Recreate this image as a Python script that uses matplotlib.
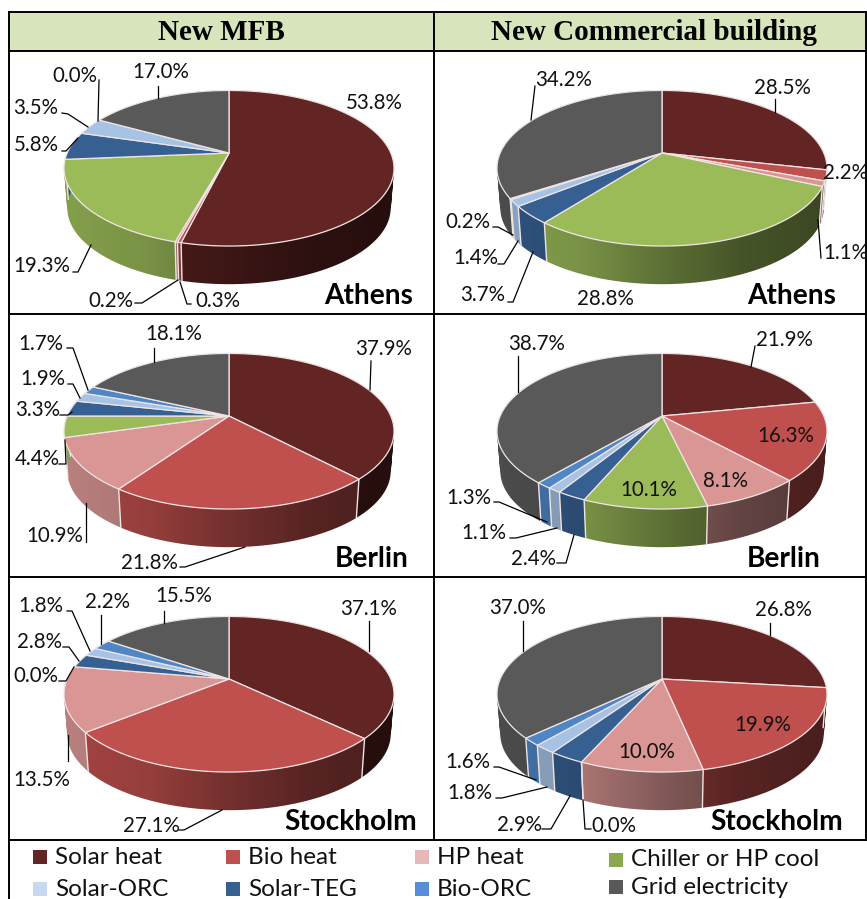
"""Six 3D-look pie charts in a table: energy shares for new MFB / commercial buildings."""
import numpy as np
import matplotlib
matplotlib.use("Agg")
import matplotlib.pyplot as plt
from matplotlib.colors import to_rgb
from matplotlib.patches import PathPatch, Polygon, Rectangle
from matplotlib.path import Path

plt.rcParams["font.family"] = ["Lato", "DejaVu Sans"]

# slice order runs clockwise from 12 o'clock
slice_names = ["Solar heat", "Bio heat", "HP heat", "Chiller or HP cool",
               "Solar-TEG", "Solar-ORC", "Bio-ORC", "Grid electricity"]
slice_colors = ["#632523", "#c0504d", "#d99694", "#9bbb59",
                "#376092", "#a6c2e4", "#4f86c6", "#595959"]

athens_mfb = [53.8, 0.3, 0.2, 19.3, 5.8, 3.5, 0.0, 17.0]
athens_com = [28.5, 2.2, 1.1, 28.8, 3.7, 1.4, 0.2, 34.2]
berlin_mfb = [37.9, 21.8, 10.9, 4.4, 3.3, 1.9, 1.7, 18.1]
berlin_com = [21.9, 16.3, 8.1, 10.1, 2.4, 1.1, 1.3, 38.7]
stockholm_mfb = [37.1, 27.1, 13.5, 0.0, 2.8, 1.8, 2.2, 15.5]
stockholm_com = [26.8, 19.9, 10.0, 0.0, 2.9, 1.8, 1.6, 37.0]

headers = ["New MFB", "New Commercial building"]

# legend rows as they appear under the table
legend_names = ["Solar heat", "Bio heat", "HP heat", "Chiller or HP cool",
                "Solar-ORC", "Solar-TEG", "Bio-ORC", "Grid electricity"]
legend_colors = ["#632523", "#c0504d", "#e6b9b8", "#8aa84f",
                 "#c6d9f1", "#376092", "#558ed5", "#595959"]
legend_x = [33, 226, 415, 609, 33, 226, 415, 609]
legend_y = [857, 857, 857, 860, 889, 889, 889, 887]

# perspective of the pie, in pixels
RX, RY, K = 161.8, 74.8, 0.196
DEPTH, BOTTOM_SCALE = 40, 0.98

# panel: values, apex position, city label position,
# labels as slice index -> (text x, text y, leader points)
panels = [
    (athens_mfb, (229, 153), "Athens", (369, 295), {
        0: (374, 102, []),
        1: (218, 300, [(191, 304), (187, 304), (180, 282)]),
        2: (111, 300, [(135, 303), (142, 303), (178, 280)]),
        3: (42, 265, [(73, 272), (78, 272), (91, 245)]),
        4: (36, 144, [(62, 151), (66, 151), (78, 138)]),
        5: (36, 107, [(62, 113), (68, 114), (88, 127)]),
        6: (75, 75, [(99, 80), (98, 121)]),
        7: (161, 71, [(158, 86), (158, 98)]),
    }),
    (athens_com, (662, 153), "Athens", (792, 295), {
        0: (782, 87, [(775, 99), (775, 112)]),
        1: (846, 172, []),
        2: (846, 252, [(821, 258), (818, 220)]),
        3: (605, 298, []),
        4: (483, 294, [(508, 302), (513, 302), (533, 252)]),
        5: (476, 257, [(498, 264), (504, 264), (518, 241)]),
        6: (468, 221, [(493, 227), (498, 227), (513, 235)]),
        7: (564, 79, [(535, 86), (531, 120)]),
    }),
    (berlin_mfb, (229, 416), "Berlin", (372, 558), {
        0: (384, 348, [(371, 361), (370, 390)]),
        1: (149, 562, [(180, 567), (185, 567), (245, 547)]),
        2: (55, 535, [(86, 542), (86, 503)]),
        3: (37, 458, [(59, 464), (66, 464), (65, 440)]),
        4: (38, 409, [(60, 415), (68, 415), (72, 412)]),
        5: (43, 378, [(68, 384), (73, 384), (80, 398)]),
        6: (41, 343, [(67, 348), (73, 348), (88, 390)]),
        7: (174, 333, [(154, 348), (154, 362)]),
    }),
    (berlin_com, (662, 416), "Berlin", (784, 558), {
        0: (784, 339, [(755, 346), (751, 367)]),
        1: (786, 435, []),
        2: (726, 480, []),
        3: (649, 489, []),
        4: (534, 558, [(557, 563), (566, 563), (574, 535)]),
        5: (484, 532, [(510, 538), (516, 538), (557, 528)]),
        6: (469, 497, [(494, 502), (499, 502), (547, 522)]),
        7: (537, 343, [(518, 356), (518, 392)]),
    }),
    (stockholm_mfb, (229, 679), "Stockholm", (351, 821), {
        0: (369, 608, [(369, 621), (369, 651)]),
        1: (151, 825, [(179, 830), (184, 830), (222, 810)]),
        2: (42, 779, [(68, 761), (68, 735)]),
        3: (36, 675, [(59, 681), (66, 681), (74, 667)]),
        4: (39, 641, [(63, 647), (69, 647), (79, 661)]),
        5: (41, 605, [(67, 611), (72, 611), (90, 651)]),
        6: (107, 601, [(101, 615), (101, 644)]),
        7: (184, 595, [(164, 611), (164, 623)]),
    }),
    (stockholm_com, (662, 679), "Stockholm", (777, 821), {
        0: (783, 609, [(770, 623), (770, 635)]),
        1: (763, 724, []),
        2: (647, 751, []),
        3: (614, 825, [(591, 829), (585, 829), (583, 800)]),
        4: (519, 824, [(542, 829), (551, 829), (570, 796)]),
        5: (470, 792, [(496, 798), (502, 798), (547, 787)]),
        6: (468, 761, [(494, 767), (499, 767), (536, 780)]),
        7: (518, 607, [(523, 621), (523, 651)]),
    }),
]


def project(theta, apex, bottom=False):
    """Map a clockwise angle on the disc to picture pixels."""
    x, y = np.sin(theta), np.cos(theta)
    w = 1 + K * y
    px, py = RX * x / w, -RY * y / w
    if bottom:
        return apex[0] + px * BOTTOM_SCALE, apex[1] + py * BOTTOM_SCALE + DEPTH
    return apex[0] + px, apex[1] + py


def wall_shade(rel_x):
    # lit from the left, dark on the right
    return np.interp(rel_x, [-1, -0.5, 0, 0.5, 1], [0.85, 0.78, 0.6, 0.45, 0.38])


def wall_path(tx, ty, bx, by):
    # one quad per arc step, all wound the same way so overlaps stay filled
    verts, codes = [], []
    for j in range(len(tx) - 1):
        quad = [(tx[j], ty[j]), (tx[j + 1], ty[j + 1]), (bx[j + 1], by[j + 1]), (bx[j], by[j])]
        xs, ys = zip(*quad)
        area = np.dot(xs, np.roll(ys, -1)) - np.dot(ys, np.roll(xs, -1))
        if area < 0:
            quad = quad[::-1]
        verts += quad + [quad[0]]
        codes += [Path.MOVETO, Path.LINETO, Path.LINETO, Path.LINETO, Path.CLOSEPOLY]
    return Path(verts, codes)


def draw_pie(ax, values, apex):
    edges = 2 * np.pi * np.cumsum([0] + list(values)) / sum(values)
    line = "#efe4e4"
    rel = np.linspace(-1.05, 1.05, 256)
    extent = [apex[0] + rel[0] * RX, apex[0] + rel[-1] * RX, apex[1] + 150, apex[1] - 80]
    for i, val in enumerate(values):
        if val == 0:
            continue
        t = np.linspace(edges[i], edges[i + 1], max(3, int(val * 6)))
        tx, ty = project(t, apex)
        bx, by = project(t, apex, bottom=True)
        clip = PathPatch(wall_path(tx, ty, bx, by), transform=ax.transData,
                         facecolor="none", edgecolor="none")
        ax.add_patch(clip)
        base = np.array(to_rgb(slice_colors[i]))
        grad = base[None, None, :] * wall_shade(rel)[None, :, None]
        im = ax.imshow(grad, extent=extent, aspect="auto", zorder=2, interpolation="bilinear")
        im.set_clip_path(clip)
    for th in edges[:-1]:
        tx, ty = project(th, apex)
        bx, by = project(th, apex, bottom=True)
        ax.plot([tx, bx], [ty, by], color=line, lw=1.0, zorder=3)
    for i, val in enumerate(values):
        if val == 0:
            continue
        t = np.linspace(edges[i], edges[i + 1], max(3, int(val * 6)))
        tx, ty = project(t, apex)
        pts = [apex] + list(zip(tx, ty))
        ax.add_patch(Polygon(pts, closed=True, facecolor=slice_colors[i], edgecolor=line,
                             lw=0.9, zorder=4))


fig = plt.figure(figsize=(8.67, 8.99), dpi=100)
ax = fig.add_axes([0, 0, 1, 1])
ax.axis("off")

# table
ax.add_patch(Rectangle((9, 12), 858, 39, facecolor="#d7e4bc", edgecolor="none", zorder=1))
for y in [12, 51, 314, 577, 840]:
    ax.plot([9, 867], [y, y], color="black", lw=1.4, zorder=6)
ax.plot([9, 9], [12, 899], color="black", lw=1.4, zorder=6)
ax.plot([434, 434], [12, 840], color="black", lw=1.4, zorder=6)
ax.plot([866, 866], [12, 840], color="black", lw=1.4, zorder=6)
for cx, head in zip([221, 654], headers):
    ax.text(cx, 32, head, ha="center", va="center", fontsize=21, fontweight="bold",
            family="Liberation Serif", color="black", zorder=7)

for values, apex, city, city_pos, labels in panels:
    draw_pie(ax, values, apex)
    for idx, (lx, ly, leader) in labels.items():
        ax.text(lx, ly + 1, f"{values[idx]:.1f}%", ha="center", va="center", fontsize=14.8,
                color="#111111", zorder=8)
        if leader:
            ax.plot([p[0] for p in leader], [p[1] for p in leader], color="black", lw=0.9,
                    zorder=5)
    ax.text(city_pos[0], city_pos[1] + 1, city, ha="center", va="center", fontsize=20.2,
            fontweight="bold", color="black", zorder=8)

# legend
for name, col, x, y in zip(legend_names, legend_colors, legend_x, legend_y):
    ax.add_patch(Rectangle((x, y - 7), 14, 14, facecolor=col, edgecolor="none"))
    ax.text(x + 22, y, name, ha="left", va="center", fontsize=17.5, color="#111111")

# imshow resets the limits, so the pixel frame goes on last
ax.set_xlim(0, 867)
ax.set_ylim(899, 0)

fig.savefig("out.png", dpi=100)
